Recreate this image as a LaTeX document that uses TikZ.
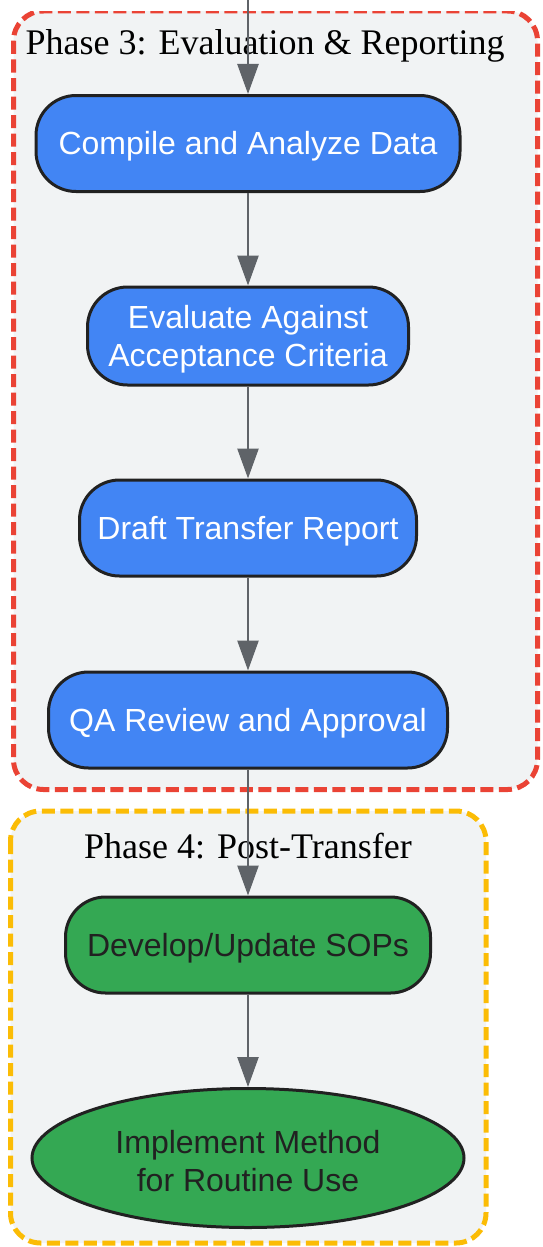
\documentclass[tikz,border=0pt]{standalone}
\usepackage{fontspec}
\setmainfont{Liberation Serif}
\setsansfont{Liberation Sans}
\usetikzlibrary{arrows.meta,shapes.geometric}
\definecolor{phasegray}{HTML}{F1F3F4}
\definecolor{phasered}{HTML}{EA4335}
\definecolor{phaseyellow}{HTML}{FBBC05}
\definecolor{stepblue}{HTML}{4285F4}
\definecolor{stepgreen}{HTML}{34A853}
\definecolor{stepborder}{HTML}{212121}
\definecolor{linkgray}{HTML}{5F6368}
\newcommand{\stepstrut}{\rule{0pt}{29.5pt}}
\begin{document}
\begin{tikzpicture}[x=1pt,y=-1pt,
  phasebox/.style={line width=5pt,dash pattern=on 13pt off 5.5pt,fill=phasegray,rounded corners=30pt},
  phasetitle/.style={font=\rmfamily\fontsize{36}{40}\selectfont,anchor=base},
  stepnode/.style={draw=stepborder,line width=3pt,rounded corners=40pt,minimum height=96pt,
    inner xsep=0pt,align=center,font=\sffamily\fontsize{32}{38}\selectfont},
  bluestep/.style={stepnode,fill=stepblue,text=white},
  greenstep/.style={stepnode,fill=stepgreen,text=stepborder},
  link/.style={draw=linkgray,line width=2.5pt,-{Triangle[length=30pt,width=21pt]}}]
\useasboundingbox (0,0) rectangle (543,1247);
% phase 3
\begin{scope}
\clip (0,12) rectangle (543,1247);
\draw [phasebox,draw=phasered] (13.5,11) rectangle (537.5,789.5);
\end{scope}
\node [phasetitle] (title3) at (265,55) {Phase 3: Evaluation \& Reporting};
% phase 4
\draw [phasebox,draw=phaseyellow] (10.5,811) rectangle (486,1243);
\node [phasetitle] (title4) at (248,858) {Phase 4: Post-Transfer};
% steps
\coordinate (entry) at (248,0);
\node [bluestep,minimum width=424pt] (compile) at (248,143.5) {\stepstrut Compile and Analyze Data};
\node [bluestep,minimum width=321pt,minimum height=98pt] (evaluate) at (248,336)
  {\stepstrut Evaluate Against\\Acceptance Criteria};
\node [bluestep,minimum width=337pt] (draft) at (248,528) {\stepstrut Draft Transfer Report};
\node [bluestep,minimum width=399pt] (review) at (248,720) {\stepstrut QA Review and Approval};
\node [greenstep,minimum width=365pt] (sops) at (248,945) {\stepstrut Develop/Update SOPs};
\node [greenstep,ellipse,rounded corners=0pt,minimum width=432pt,minimum height=139pt,inner sep=0pt]
  (implement) at (248,1158) {\stepstrut Implement Method\\for Routine Use};
% links
\draw [link] (entry) -- (compile);
\draw [link] (compile) -- (evaluate);
\draw [link] (evaluate) -- (draft);
\draw [link] (draft) -- (review);
\draw [link] (review) -- (sops);
\draw [link] (sops) -- (implement);
\end{tikzpicture}
\end{document}
